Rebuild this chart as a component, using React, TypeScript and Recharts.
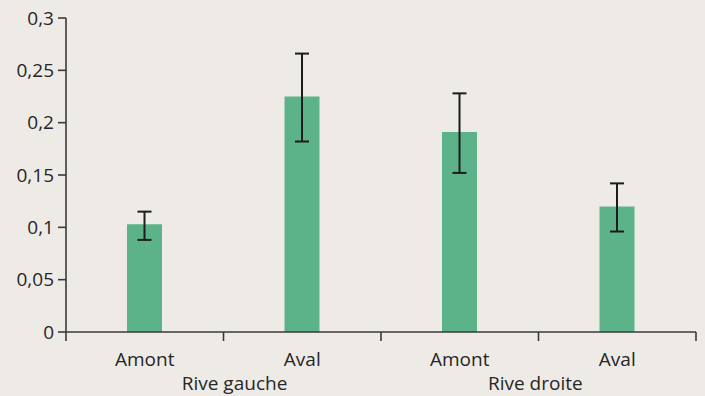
import { BarChart, Bar, XAxis, YAxis, ErrorBar } from 'recharts';

const categories = ['Amont', 'Aval', 'Amont', 'Aval'];
const means = [0.103, 0.225, 0.191, 0.12];
const errLow = [0.015, 0.043, 0.039, 0.024];
const errHigh = [0.012, 0.041, 0.037, 0.022];

const yTicks = [0, 0.05, 0.1, 0.15, 0.2, 0.25, 0.3];
const slotBoundaries = [0, 1, 2, 3, 4];
const groupNames = ['Rive gauche', 'Rive droite'];
const groupPositions = [1.07, 2.98];

const data = categories.map((c, i) => ({
  name: c,
  slot: i + 0.5,
  value: means[i],
  err: [errLow[i], errHigh[i]],
}));

const font = '"Open Sans", sans-serif';
const textColor = '#262626';
const axisColor = '#3a3a3a';

export default function App() {
  return (
    <div
      style={{
        position: 'absolute',
        left: 0,
        top: 0,
        width: 705,
        height: 396,
        background: '#eeebe7',
        fontFamily: font,
      }}
    >
      <BarChart
        width={705}
        height={396}
        data={data}
        margin={{ top: 18, right: 9, left: 0, bottom: 0 }}
      >
        {/* tick marks between the four bars */}
        <XAxis
          xAxisId="a"
          dataKey="slot"
          type="number"
          domain={[0, 4]}
          allowDataOverflow
          ticks={slotBoundaries}
          tickFormatter={() => ''}
          height={1}
          tickSize={9}
          stroke={axisColor}
          strokeWidth={1.6}
        />
        <XAxis
          xAxisId="b"
          dataKey="name"
          height={29}
          axisLine={false}
          tickLine={false}
          tickSize={0}
          tickMargin={20}
          interval={0}
          tick={{ fill: textColor, fontSize: 19, fontFamily: font }}
        />
        <XAxis
          xAxisId="c"
          dataKey="slot"
          type="number"
          domain={[0, 4]}
          allowDataOverflow
          ticks={groupPositions}
          tickFormatter={(v: number) => groupNames[groupPositions.indexOf(v)] ?? ''}
          height={34}
          axisLine={false}
          tickLine={false}
          tickSize={0}
          tickMargin={15}
          interval={0}
          tick={{ fill: textColor, fontSize: 19, fontFamily: font }}
        />
        <YAxis
          domain={[0, 0.3]}
          ticks={yTicks}
          width={66}
          tickSize={8}
          tickMargin={4}
          stroke={axisColor}
          strokeWidth={1.6}
          interval={0}
          tickFormatter={(v: number) => String(v).replace('.', ',')}
          tick={{ fill: textColor, fontSize: 19, fontFamily: font }}
        />
        <Bar
          xAxisId="b"
          dataKey="value"
          fill="#5db389"
          barSize={35}
          isAnimationActive={false}
        >
          <ErrorBar
            dataKey="err"
            direction="y"
            width={7}
            strokeWidth={2}
            stroke="#1c1c1c"
            isAnimationActive={false}
          />
        </Bar>
      </BarChart>
    </div>
  );
}
